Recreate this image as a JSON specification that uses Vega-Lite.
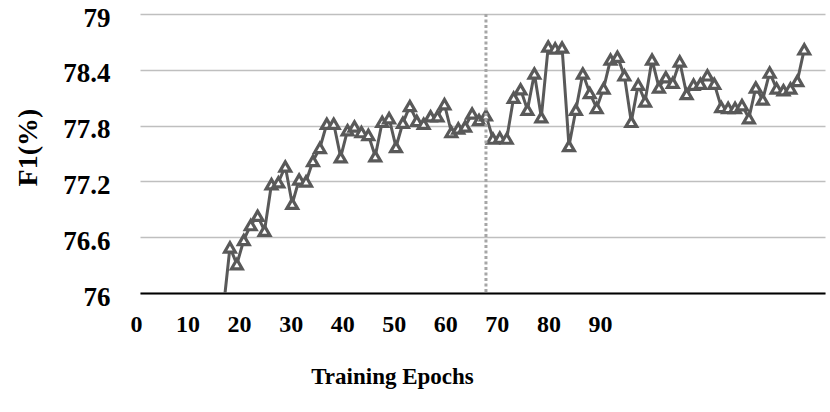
{
  "$schema": "https://vega.github.io/schema/vega-lite/v6.json",
  "width": 685,
  "height": 279,
  "autosize": "none",
  "padding": {"left": 140, "top": 14, "right": 5, "bottom": 119},
  "background": "white",
  "config": {
    "view": {"stroke": null},
    "font": "Liberation Serif"
  },
  "data": {
    "values": [
      {"epoch": 12, "f1": 75.8},
      {"epoch": 13, "f1": 76.49},
      {"epoch": 14, "f1": 76.31},
      {"epoch": 15, "f1": 76.57},
      {"epoch": 16, "f1": 76.73},
      {"epoch": 17, "f1": 76.83},
      {"epoch": 18, "f1": 76.67},
      {"epoch": 19, "f1": 77.17},
      {"epoch": 20, "f1": 77.19},
      {"epoch": 21, "f1": 77.36},
      {"epoch": 22, "f1": 76.96},
      {"epoch": 23, "f1": 77.22},
      {"epoch": 24, "f1": 77.2},
      {"epoch": 25, "f1": 77.42},
      {"epoch": 26, "f1": 77.56},
      {"epoch": 27, "f1": 77.82},
      {"epoch": 28, "f1": 77.82},
      {"epoch": 29, "f1": 77.46},
      {"epoch": 30, "f1": 77.75},
      {"epoch": 31, "f1": 77.79},
      {"epoch": 32, "f1": 77.73},
      {"epoch": 33, "f1": 77.7},
      {"epoch": 34, "f1": 77.47},
      {"epoch": 35, "f1": 77.84},
      {"epoch": 36, "f1": 77.88},
      {"epoch": 37, "f1": 77.57},
      {"epoch": 38, "f1": 77.83},
      {"epoch": 39, "f1": 78.01},
      {"epoch": 40, "f1": 77.85},
      {"epoch": 41, "f1": 77.82},
      {"epoch": 42, "f1": 77.9},
      {"epoch": 43, "f1": 77.9},
      {"epoch": 44, "f1": 78.03},
      {"epoch": 45, "f1": 77.73},
      {"epoch": 46, "f1": 77.77},
      {"epoch": 47, "f1": 77.79},
      {"epoch": 48, "f1": 77.93},
      {"epoch": 49, "f1": 77.86},
      {"epoch": 50, "f1": 77.91},
      {"epoch": 51, "f1": 77.66},
      {"epoch": 52, "f1": 77.67},
      {"epoch": 53, "f1": 77.66},
      {"epoch": 54, "f1": 78.1},
      {"epoch": 55, "f1": 78.19},
      {"epoch": 56, "f1": 77.97},
      {"epoch": 57, "f1": 78.36},
      {"epoch": 58, "f1": 77.89},
      {"epoch": 59, "f1": 78.65},
      {"epoch": 60, "f1": 78.63},
      {"epoch": 61, "f1": 78.64},
      {"epoch": 62, "f1": 77.58},
      {"epoch": 63, "f1": 77.97},
      {"epoch": 64, "f1": 78.36},
      {"epoch": 65, "f1": 78.15},
      {"epoch": 66, "f1": 77.99},
      {"epoch": 67, "f1": 78.2},
      {"epoch": 68, "f1": 78.51},
      {"epoch": 69, "f1": 78.54},
      {"epoch": 70, "f1": 78.34},
      {"epoch": 71, "f1": 77.84},
      {"epoch": 72, "f1": 78.24},
      {"epoch": 73, "f1": 78.06},
      {"epoch": 74, "f1": 78.51},
      {"epoch": 75, "f1": 78.21},
      {"epoch": 76, "f1": 78.32},
      {"epoch": 77, "f1": 78.26},
      {"epoch": 78, "f1": 78.49},
      {"epoch": 79, "f1": 78.14},
      {"epoch": 80, "f1": 78.24},
      {"epoch": 81, "f1": 78.25},
      {"epoch": 82, "f1": 78.34},
      {"epoch": 83, "f1": 78.25},
      {"epoch": 84, "f1": 78.0},
      {"epoch": 85, "f1": 77.99},
      {"epoch": 86, "f1": 77.99},
      {"epoch": 87, "f1": 78.02},
      {"epoch": 88, "f1": 77.88},
      {"epoch": 89, "f1": 78.21},
      {"epoch": 90, "f1": 78.08},
      {"epoch": 91, "f1": 78.37},
      {"epoch": 92, "f1": 78.2},
      {"epoch": 93, "f1": 78.18},
      {"epoch": 94, "f1": 78.2},
      {"epoch": 95, "f1": 78.28},
      {"epoch": 96, "f1": 78.62}
    ]
  },
  "encoding": {
    "x": {
      "field": "epoch",
      "type": "quantitative",
      "scale": {"domain": [0, 99], "nice": false, "zero": false},
      "axis": {
        "title": "Training Epochs",
        "titleFont": "Liberation Serif",
        "titleFontSize": 23,
        "titleFontWeight": "bold",
        "titleColor": "black",
        "titleX": 252,
        "titleY": 90,
        "titleAlign": "center",
        "titleBaseline": "alphabetic",
        "values": [0, 7.45, 14.9, 22.35, 29.8, 37.25, 44.7, 52.15, 59.6, 67.05],
        "labelExpr": "format(round(datum.value / 7.45) * 10, 'd')",
        "labelOffset": -4,
        "labelFont": "Liberation Serif",
        "labelFontSize": 24,
        "labelFontWeight": "bold",
        "labelColor": "black",
        "labelPadding": 19,
        "labelFlush": false,
        "labelOverlap": false,
        "ticks": false,
        "grid": false,
        "domain": true,
        "domainColor": "black",
        "domainWidth": 1.8
      }
    },
    "y": {
      "field": "f1",
      "type": "quantitative",
      "scale": {"domain": [76, 79], "nice": false, "zero": false},
      "axis": {
        "title": "F1(%)",
        "titleFont": "Liberation Serif",
        "titleFontSize": 28,
        "titleFontWeight": "bold",
        "titleColor": "black",
        "titleAngle": -90,
        "titleX": -112,
        "titleY": 133,
        "titleAlign": "center",
        "titleBaseline": "middle",
        "values": [76, 76.6, 77.2, 77.8, 78.4, 79],
        "labelExpr": "format(datum.value, '.1~f')",
        "labelFont": "Liberation Serif",
        "labelFontSize": 27,
        "labelFontWeight": "bold",
        "labelColor": "black",
        "labelPadding": 30,
        "labelOffset": 4,
        "labelBaseline": "middle",
        "ticks": false,
        "domain": false,
        "grid": true,
        "gridColor": "#BFBFBF",
        "gridWidth": 1.5
      }
    }
  },
  "layer": [
    {
      "mark": {"type": "line", "color": "#595959", "strokeWidth": 3, "clip": true}
    },
    {
      "mark": {"type": "point", "shape": "triangle-up", "filled": true, "fill": "white", "stroke": "#595959", "strokeWidth": 3.2, "size": 115, "opacity": 1, "clip": true}
    },
    {
      "data": {"values": [{"epoch": 50}]},
      "mark": {"type": "rule", "color": "#A6A6A6", "strokeWidth": 3, "strokeDash": [3, 2.5]},
      "encoding": {
        "x": {"field": "epoch", "type": "quantitative"},
        "y": null
      }
    }
  ]
}
